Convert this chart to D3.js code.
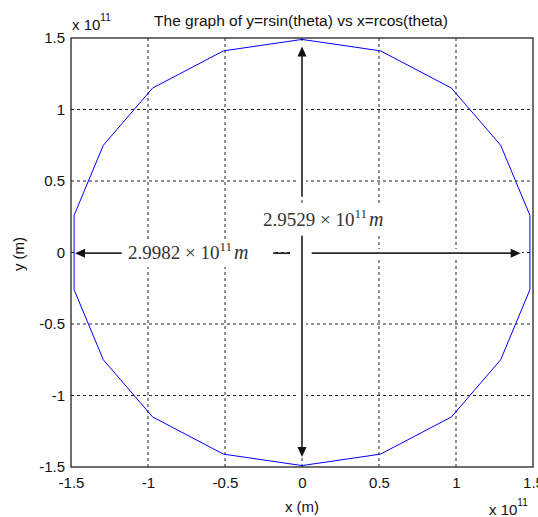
<!DOCTYPE html>
<html>
<head>
<meta charset="utf-8">
<script src="https://cdn.jsdelivr.net/npm/d3@7"></script>
<style>
    body { margin: 0; background: #fff; }
    svg { display: block; }
    .tick-label { font-family: "Liberation Sans", Arial, sans-serif; font-size: 15px; fill: #111; }
    .note { font-family: "Liberation Serif", "DejaVu Serif", serif; font-size: 19px; fill: #333; }
</style>
</head>
<body>
<div id="chart"></div>
<script>
// axis ticks (units of 10^11 m)
const xTicks = [-1.5, -1, -0.5, 0, 0.5, 1, 1.5];
const yTicks = [-1.5, -1, -0.5, 0, 0.5, 1, 1.5];
const tickLabels = ["-1.5", "-1", "-0.5", "0", "0.5", "1", "1.5"];

// orbit vertices, x = r cos(theta), y = r sin(theta)
const orbitX = [1.48, 1.29, 0.97, 0.51, 0.00, -0.51, -0.97, -1.29, -1.48,
                -1.48, -1.29, -0.97, -0.51, 0.00, 0.51, 0.97, 1.29, 1.48, 1.48];
const orbitY = [0.26, 0.75, 1.15, 1.41, 1.49, 1.41, 1.15, 0.75, 0.26,
                -0.26, -0.75, -1.15, -1.41, -1.49, -1.41, -1.15, -0.75, -0.26, 0.26];

// annotation texts
const widthNote = "2.9982";
const heightNote = "2.9529";

let width = 538, height = 517;
let margin = {top: 38, right: 5, bottom: 50, left: 71};

let svg = d3.select("#chart").append("svg")
    .attr("width", width)
    .attr("height", height);

let x = d3.scaleLinear().domain([-1.5, 1.5]).range([margin.left, width - margin.right]);
let y = d3.scaleLinear().domain([-1.5, 1.5]).range([height - margin.bottom, margin.top]);

// dashed grid
svg.append("g").selectAll("line.vgrid")
    .data(xTicks.slice(1, -1))
    .enter().append("line")
    .attr("class", "vgrid")
    .attr("x1", d => x(d)).attr("x2", d => x(d))
    .attr("y1", y(1.5)).attr("y2", y(-1.5))
    .attr("stroke", "#222")
    .attr("stroke-width", 1)
    .attr("stroke-dasharray", "3,3");

svg.append("g").selectAll("line.hgrid")
    .data(yTicks.slice(1, -1))
    .enter().append("line")
    .attr("class", "hgrid")
    .attr("y1", d => y(d)).attr("y2", d => y(d))
    .attr("x1", x(-1.5)).attr("x2", x(1.5))
    .attr("stroke", "#222")
    .attr("stroke-width", 1)
    .attr("stroke-dasharray", "3,3");

// axes, tick labels only (MATLAB style)
let xAxis = d3.axisBottom(x).tickValues(xTicks).tickSize(0).tickPadding(10)
    .tickFormat((d, i) => tickLabels[i]);
let yAxis = d3.axisLeft(y).tickValues(yTicks).tickSize(0).tickPadding(6)
    .tickFormat((d, i) => tickLabels[i]);

let gx = svg.append("g")
    .attr("transform", "translate(0," + y(-1.5) + ")")
    .call(xAxis);
let gy = svg.append("g")
    .attr("transform", "translate(" + x(-1.5) + ",0)")
    .call(yAxis);

[gx, gy].forEach(g => {
    g.select(".domain").remove();
    g.selectAll("text").attr("class", "tick-label").attr("font-size", null).attr("font-family", null);
});

// orbit
let orbit = orbitX.map((d, i) => [d, orbitY[i]]);
svg.append("path")
    .datum(orbit)
    .attr("fill", "none")
    .attr("stroke", "#0000ff")
    .attr("stroke-width", 1)
    .attr("d", d3.line().x(d => x(d[0])).y(d => y(d[1])));

// box
svg.append("rect")
    .attr("x", x(-1.5)).attr("y", y(1.5))
    .attr("width", x(1.5) - x(-1.5))
    .attr("height", y(-1.5) - y(1.5))
    .attr("fill", "none")
    .attr("stroke", "#222")
    .attr("stroke-width", 1.3);

// white patches behind the pasted annotations (they hide the grid)
function patch(px, py, w, h) {
    svg.append("rect")
        .attr("x", px).attr("y", py)
        .attr("width", w).attr("height", h)
        .attr("fill", "#fff");
}
patch(256, 203, 142, 32);
patch(122, 241, 151, 26);
patch(290, 246, 22, 14);
patch(75, 249, 47, 9);
patch(312, 249, 210, 9);
patch(298, 44, 8, 154);
patch(298, 236, 8, 222);

// annotation arrows
let ink = "#2a2a2a";
function seg(x1, y1, x2, y2) {
    svg.append("line")
        .attr("x1", x(x1)).attr("y1", y(y1))
        .attr("x2", x(x2)).attr("y2", y(y2))
        .attr("stroke", ink)
        .attr("stroke-width", 1.7);
}
function head(px, py, dir) {
    // dir: "up", "down", "left", "right"
    let L = 10, W = 4.5, pts;
    if (dir === "up") pts = [[px, py], [px - W, py + L], [px + W, py + L]];
    if (dir === "down") pts = [[px, py], [px - W, py - L], [px + W, py - L]];
    if (dir === "left") pts = [[px, py], [px + L, py - W], [px + L, py + W]];
    if (dir === "right") pts = [[px, py], [px - L, py - W], [px - L, py + W]];
    svg.append("path")
        .attr("d", "M" + pts.join("L") + "Z")
        .attr("fill", "#111");
}

// vertical (height) arrow
seg(0, 1.40, 0, 0.39);
seg(0, 0.117, 0, -1.40);
head(x(0), y(1.44), "up");
head(x(0), y(-1.43), "down");

// horizontal (width) arrow
seg(-1.445, -0.005, -1.171, -0.005);
seg(-0.188, -0.005, -0.078, -0.005);
seg(0.063, -0.005, 1.39, -0.005);
head(x(-1.474), y(-0.005), "left");
head(x(1.42), y(-0.005), "right");

function note(px, py, value) {
    let t = svg.append("text").attr("class", "note").attr("x", px).attr("y", py);
    t.append("tspan").text(value + " \u00d7 10");
    t.append("tspan").attr("font-size", "13px").attr("dy", -8).text("11");
    t.append("tspan").attr("dy", 8).attr("dx", 2).attr("font-size", "20px")
        .attr("font-style", "italic").text("m");
}
note(263, 226, heightNote);
note(128, 259, widthNote);

// title and labels
svg.append("text")
    .attr("class", "tick-label")
    .attr("x", 301).attr("y", 26)
    .attr("text-anchor", "middle")
    .style("font-size", "15.5px")
    .text("The graph of y=rsin(theta) vs x=rcos(theta)");

svg.append("text")
    .attr("class", "tick-label")
    .attr("x", 302).attr("y", 512)
    .attr("text-anchor", "middle")
    .text("x (m)");

svg.append("text")
    .attr("class", "tick-label")
    .attr("transform", "translate(24,254) rotate(-90)")
    .attr("text-anchor", "middle")
    .text("y (m)");

function scaleNote(px, py) {
    let t = svg.append("text").attr("class", "tick-label").attr("x", px).attr("y", py);
    t.append("tspan").text("x 10");
    t.append("tspan").attr("font-size", "10px").attr("dy", -9).text("11");
}
scaleNote(72, 30);
scaleNote(489, 515);
</script>
</body>
</html>
